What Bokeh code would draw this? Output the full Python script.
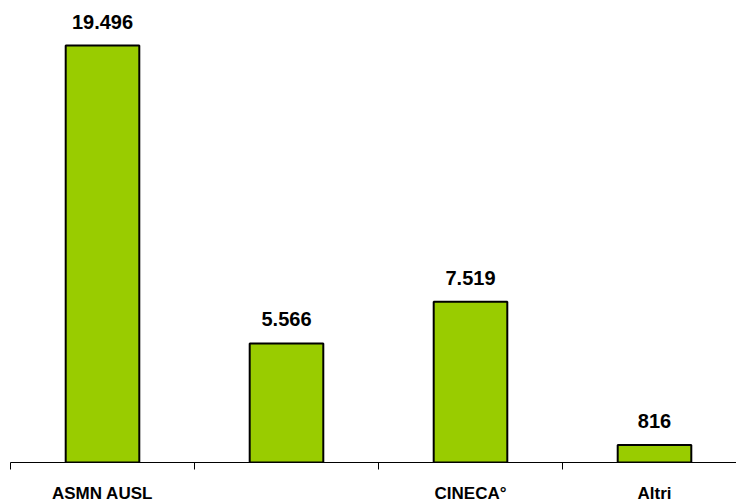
from bokeh.plotting import figure
from bokeh.models import ColumnDataSource, FixedTicker, LabelSet
from bokeh.core.properties import value
from bokeh.embed import file_html
from bokeh.resources import INLINE

categories = ["ASMN AUSL", "", "CINECA°", "Altri"]
values = [19496, 5566, 7519, 816]
value_labels = ["19.496", "5.566", "7.519", "816"]

xs = [i + 0.5 for i in range(len(categories))]
src = ColumnDataSource(dict(x=xs, top=values, lab=value_labels))

p = figure(frame_width=728, frame_height=462, output_backend="svg", toolbar_location=None,
           x_range=(0, 728 / 184), y_range=(0, 21600),
           min_border_left=10, min_border_right=0, min_border_top=0, min_border_bottom=0)
p.outline_line_color = None
p.xgrid.visible = False
p.ygrid.visible = False
p.yaxis.visible = False

p.vbar(x="x", top="top", width=0.4, bottom=0, source=src,
       fill_color="#99CC00", line_color="black", line_width=2)

labels = LabelSet(x="x", y="top", text="lab", source=src, text_align="center",
                  text_baseline="alphabetic", y_offset=17,
                  text_font=value("Liberation Sans"), text_font_style="bold",
                  text_font_size="20px", text_color="black")
p.add_layout(labels)

ax = p.xaxis[0]
ax.ticker = FixedTicker(ticks=xs, minor_ticks=[0, 1, 2, 3, 4])
ax.major_label_overrides = {x: c for x, c in zip(xs, categories)}
ax.major_tick_out = 0
ax.major_tick_in = 0
ax.minor_tick_out = 7
ax.minor_tick_in = 0
ax.minor_tick_line_color = "black"
ax.axis_line_color = "black"
ax.axis_line_width = 1
ax.major_label_standoff = 14
ax.major_label_text_font = "Liberation Sans"
ax.major_label_text_font_style = "bold"
ax.major_label_text_font_size = "17px"
ax.major_label_text_color = "black"

open("out.html", "w").write(file_html(p, INLINE))
